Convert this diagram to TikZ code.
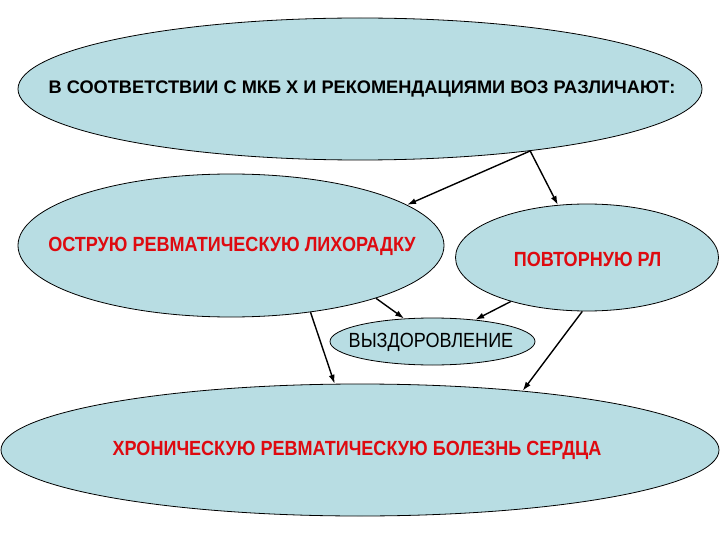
\documentclass[tikz,border=0pt]{standalone}
\usepackage{fontspec}
\setmainfont{Liberation Sans}
\newfontfamily\narrowfont[FakeStretch=0.88]{Liberation Sans}
\usepackage{tikz}
\usepackage{xcolor}
\usetikzlibrary{arrows.meta, shapes.geometric}
\definecolor{ovalfill}{RGB}{184,221,227}
\definecolor{diagred}{RGB}{222,10,16}
\tikzset{
  ovalnode/.style={ellipse,draw=black,line width=0.8pt,fill=ovalfill,inner sep=0pt},
  redlabel/.style={text=diagred,font=\narrowfont\bfseries\fontsize{20.5}{23}\selectfont},
  arrowline/.style={-{Latex[length=9pt,width=6pt]},line width=1.4pt,black},
}

\begin{document}
\begin{tikzpicture}[x=1pt,y=-1pt]
  \useasboundingbox (0,0) rectangle (720,540);
  % ovals
  \node[ovalnode,minimum width=684pt,minimum height=142pt] (who) at (360,89) {};
  \node[font=\bfseries\fontsize{18.2}{21}\selectfont] at (362,89) {В СООТВЕТСТВИИ С МКБ Х И РЕКОМЕНДАЦИЯМИ ВОЗ РАЗЛИЧАЮТ:};
  \node[ovalnode,minimum width=426pt,minimum height=143pt] (acute) at (231,245.5) {};
  \node[redlabel] at (232,246) {ОСТРУЮ РЕВМАТИЧЕСКУЮ ЛИХОРАДКУ};
  \node[ovalnode,minimum width=263pt,minimum height=107pt] (recur) at (587,257.5) {};
  \node[redlabel] at (587.5,259) {ПОВТОРНУЮ РЛ};
  \node[ovalnode,minimum width=205pt,minimum height=47pt] (recovery) at (432.5,341.5) {};
  \node[font=\narrowfont\fontsize{20.5}{23}\selectfont] at (431,342) {ВЫЗДОРОВЛЕНИЕ};
  \node[ovalnode,minimum width=718pt,minimum height=132pt] (chronic) at (360,450) {};
  \node[redlabel] at (357,450) {ХРОНИЧЕСКУЮ РЕВМАТИЧЕСКУЮ БОЛЕЗНЬ СЕРДЦА};
  % arrows
  \draw[arrowline] (who.-20) -- (acute.13);
  \draw[arrowline] (who.-20) -- (recur.119);
  \draw[arrowline] (acute.-20) -- (recovery.141);
  \draw[arrowline] (recur.210) -- (recovery.27);
  \draw[arrowline] (acute.-40) -- (chronic.111);
  \draw[arrowline] (recur.265) -- (chronic.20);
\end{tikzpicture}
\end{document}
